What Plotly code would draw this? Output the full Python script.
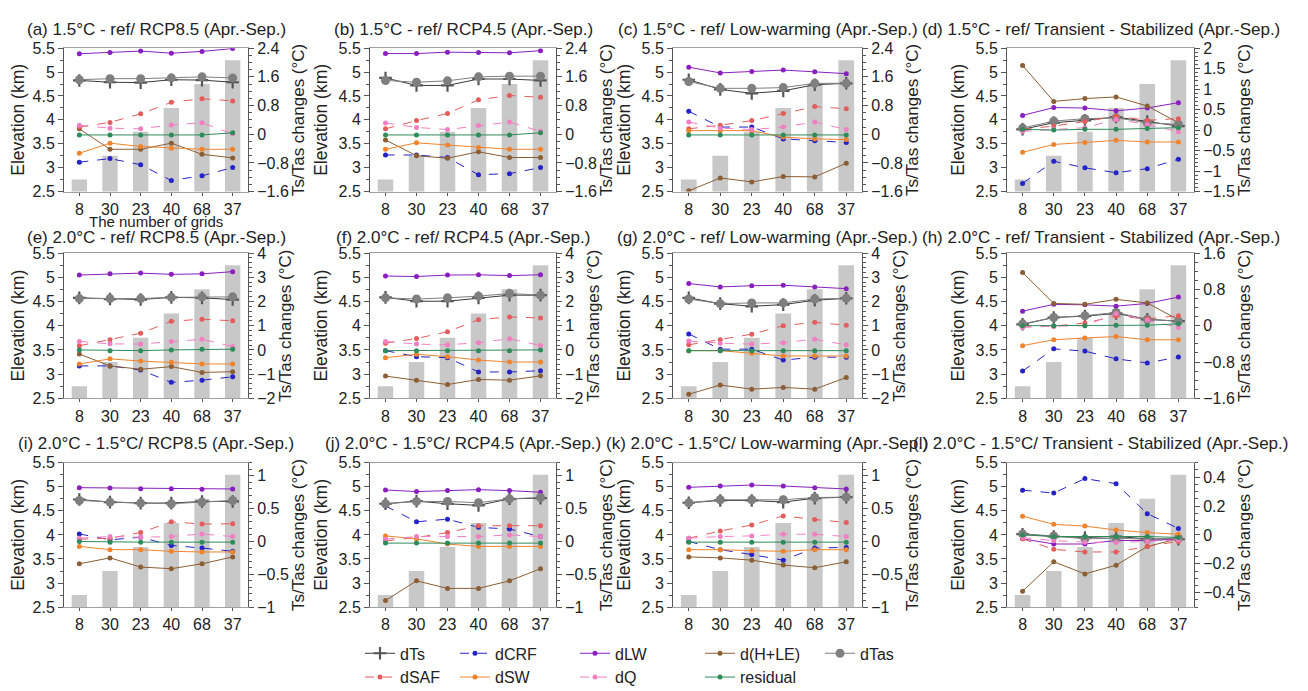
import plotly.graph_objects as go

# categories (number of grids) and elevation of each band
grids = ["8", "30", "23", "40", "68", "37"]
elevation = [2.75, 3.25, 3.75, 4.25, 4.75, 5.25]

titles = [
    "(a) 1.5°C - ref/ RCP8.5 (Apr.-Sep.)",
    "(b) 1.5°C - ref/ RCP4.5 (Apr.-Sep.)",
    "(c) 1.5°C - ref/ Low-warming (Apr.-Sep.)",
    "(d) 1.5°C - ref/ Transient - Stabilized (Apr.-Sep.)",
    "(e) 2.0°C - ref/ RCP8.5 (Apr.-Sep.)",
    "(f) 2.0°C - ref/ RCP4.5 (Apr.-Sep.)",
    "(g) 2.0°C - ref/ Low-warming (Apr.-Sep.)",
    "(h) 2.0°C - ref/ Transient - Stabilized (Apr.-Sep.)",
    "(i) 2.0°C - 1.5°C/ RCP8.5 (Apr.-Sep.)",
    "(j) 2.0°C - 1.5°C/ RCP4.5 (Apr.-Sep.)",
    "(k) 2.0°C - 1.5°C/ Low-warming (Apr.-Sep.)",
    "(l) 2.0°C - 1.5°C/ Transient - Stabilized (Apr.-Sep.)",
]

# one row per panel (a..l), one value per elevation band
dTs = [
    [1.50, 1.45, 1.44, 1.52, 1.51, 1.45],
    [1.57, 1.36, 1.36, 1.54, 1.54, 1.50],
    [1.52, 1.25, 1.14, 1.21, 1.38, 1.42],
    [0.02, 0.18, 0.24, 0.32, 0.21, 0.10],
    [2.15, 2.10, 2.08, 2.17, 2.15, 2.08],
    [2.17, 2.01, 2.01, 2.15, 2.26, 2.26],
    [2.15, 1.91, 1.80, 1.87, 2.05, 2.13],
    [0.03, 0.18, 0.21, 0.27, 0.14, 0.10],
    [0.64, 0.60, 0.585, 0.585, 0.61, 0.61],
    [0.575, 0.615, 0.575, 0.55, 0.65, 0.66],
    [0.59, 0.625, 0.625, 0.60, 0.66, 0.675],
    [0.005, -0.011, -0.018, -0.011, -0.027, -0.03],
]
dTas = [
    [1.52, 1.55, 1.55, 1.57, 1.60, 1.57],
    [1.50, 1.45, 1.49, 1.60, 1.62, 1.62],
    [1.47, 1.28, 1.28, 1.30, 1.42, 1.42],
    [0.05, 0.22, 0.28, 0.30, 0.18, 0.14],
    [2.12, 2.12, 2.12, 2.17, 2.19, 2.19],
    [2.15, 2.10, 2.15, 2.22, 2.33, 2.26],
    [2.10, 1.91, 1.94, 1.94, 2.10, 2.13],
    [0.04, 0.18, 0.22, 0.29, 0.14, 0.10],
    [0.625, 0.60, 0.585, 0.575, 0.60, 0.625],
    [0.575, 0.61, 0.61, 0.59, 0.65, 0.67],
    [0.59, 0.635, 0.635, 0.635, 0.67, 0.675],
    [0.007, -0.007, -0.027, -0.023, -0.03, -0.023],
]
dCRF = [
    [-0.78, -0.68, -0.85, -1.29, -1.16, -0.93],
    [-0.58, -0.58, -0.65, -1.13, -1.10, -0.93],
    [0.64, 0.20, 0.20, -0.13, -0.18, -0.23],
    [-1.30, -0.76, -0.92, -1.04, -0.94, -0.71],
    [-0.66, -0.66, -0.83, -1.34, -1.25, -1.11],
    [-0.03, -0.28, -0.32, -0.91, -0.91, -0.86],
    [0.66, 0.03, 0.03, -0.42, -0.30, -0.30],
    [-1.00, -0.51, -0.56, -0.73, -0.82, -0.69],
    [0.115, 0.025, 0.065, -0.06, -0.10, -0.15],
    [0.54, 0.30, 0.34, 0.215, 0.19, 0.075],
    [0.0, -0.125, -0.20, -0.285, -0.10, -0.09],
    [0.31, 0.29, 0.39, 0.355, 0.147, 0.045],
]
dLW = [
    [2.245, 2.28, 2.32, 2.26, 2.31, 2.39],
    [2.25, 2.25, 2.29, 2.28, 2.27, 2.33],
    [1.87, 1.71, 1.75, 1.79, 1.74, 1.69],
    [0.36, 0.55, 0.54, 0.47, 0.54, 0.67],
    [3.09, 3.14, 3.17, 3.12, 3.14, 3.23],
    [3.05, 3.03, 3.09, 3.10, 3.07, 3.10],
    [2.74, 2.60, 2.65, 2.67, 2.60, 2.53],
    [0.32, 0.47, 0.46, 0.43, 0.49, 0.63],
    [0.82, 0.815, 0.805, 0.805, 0.795, 0.80],
    [0.785, 0.76, 0.775, 0.79, 0.775, 0.75],
    [0.825, 0.845, 0.86, 0.845, 0.82, 0.80],
    [-0.027, -0.063, -0.063, -0.039, -0.039, -0.03],
]
dHLE = [
    [0.15, -0.42, -0.42, -0.25, -0.56, -0.66],
    [-0.16, -0.60, -0.67, -0.49, -0.65, -0.65],
    [-1.58, -1.22, -1.33, -1.18, -1.19, -0.81],
    [1.58, 0.70, 0.77, 0.81, 0.59, 0.18],
    [-0.17, -0.66, -0.80, -0.69, -0.93, -0.90],
    [-1.08, -1.25, -1.43, -1.22, -1.25, -1.07],
    [-1.83, -1.45, -1.62, -1.55, -1.62, -1.14],
    [1.17, 0.49, 0.47, 0.58, 0.50, 0.13],
    [-0.34, -0.25, -0.39, -0.415, -0.34, -0.235],
    [-0.90, -0.60, -0.715, -0.715, -0.60, -0.415],
    [-0.235, -0.25, -0.285, -0.36, -0.40, -0.31],
    [-0.39, -0.186, -0.27, -0.21, -0.08, -0.027],
]
dSAF = [
    [0.20, 0.33, 0.57, 0.89, 0.99, 0.93],
    [0.15, 0.38, 0.58, 0.96, 1.08, 1.03],
    [0.15, 0.25, 0.38, 0.58, 0.77, 0.71],
    [0.02, 0.10, 0.21, 0.34, 0.24, 0.28],
    [0.17, 0.42, 0.69, 1.18, 1.27, 1.20],
    [0.28, 0.47, 0.75, 1.25, 1.36, 1.32],
    [0.21, 0.42, 0.65, 1.00, 1.14, 1.02],
    [-0.01, -0.01, 0.06, 0.21, 0.15, 0.22],
    [0.035, 0.05, 0.135, 0.30, 0.265, 0.27],
    [0.01, 0.06, 0.135, 0.24, 0.24, 0.24],
    [0.05, 0.16, 0.25, 0.39, 0.335, 0.29],
    [-0.027, -0.10, -0.118, -0.118, -0.08, -0.045],
]
dSW = [
    [-0.53, -0.25, -0.34, -0.39, -0.42, -0.42],
    [-0.42, -0.24, -0.30, -0.37, -0.42, -0.42],
    [0.10, 0.10, 0.10, -0.08, -0.13, -0.15],
    [-0.54, -0.35, -0.30, -0.25, -0.29, -0.29],
    [-0.58, -0.37, -0.46, -0.51, -0.58, -0.58],
    [-0.32, -0.18, -0.28, -0.42, -0.50, -0.50],
    [-0.03, -0.03, -0.14, -0.25, -0.25, -0.25],
    [-0.44, -0.31, -0.27, -0.24, -0.31, -0.31],
    [-0.075, -0.125, -0.125, -0.15, -0.16, -0.16],
    [0.085, 0.04, -0.04, -0.075, -0.075, -0.075],
    [-0.125, -0.125, -0.14, -0.15, -0.125, -0.125],
    [0.13, 0.073, 0.061, 0.034, 0.016, 0.005],
]
dQ = [
    [0.25, 0.17, 0.15, 0.26, 0.32, 0.01],
    [0.31, 0.19, 0.13, 0.24, 0.34, 0.08],
    [0.34, 0.17, 0.13, 0.20, 0.34, 0.13],
    [-0.03, 0.02, 0.06, 0.26, 0.14, -0.04],
    [0.35, 0.25, 0.24, 0.35, 0.44, 0.14],
    [0.35, 0.24, 0.21, 0.30, 0.46, 0.18],
    [0.37, 0.28, 0.24, 0.30, 0.44, 0.21],
    [-0.04, -0.01, 0.0, 0.27, 0.12, -0.04],
    [0.05, 0.075, 0.065, 0.075, 0.115, 0.075],
    [0.035, 0.075, 0.075, 0.075, 0.10, 0.075],
    [0.05, 0.075, 0.085, 0.11, 0.11, 0.075],
    [-0.018, -0.04, -0.05, -0.052, -0.045, -0.034],
]
residual = [
    [-0.02, -0.02, -0.02, -0.02, -0.02, 0.04],
    [-0.02, -0.02, -0.02, -0.02, -0.02, 0.04],
    [-0.02, -0.02, -0.02, -0.02, -0.02, -0.02],
    [0.02, 0.0, 0.02, 0.02, 0.04, 0.06],
    [0.0, -0.03, -0.03, 0.0, 0.03, 0.03],
    [-0.03, -0.03, -0.03, -0.03, -0.03, 0.0],
    [-0.03, -0.03, -0.03, -0.03, -0.03, -0.03],
    [0.0, 0.0, 0.0, 0.01, 0.01, 0.04],
    [0.0, -0.01, -0.01, -0.01, -0.01, -0.01],
    [-0.025, -0.025, -0.025, -0.025, -0.025, -0.025],
    [-0.01, -0.01, -0.01, -0.01, -0.01, -0.01],
    [0.0, -0.011, -0.011, -0.011, -0.011, -0.018],
]

# right axis range / tick step per panel
right_range = [[-1.6, 2.4]] * 3 + [[-1.5, 2.0]] + [[-2, 4]] * 3 + [[-1.6, 1.6]] + [[-1, 1.2]] * 3 + [[-0.5, 0.5]]
right_dtick = [0.8] * 3 + [0.5] + [1] * 3 + [0.8] + [0.5] * 3 + [0.2]

# name, data, colour, marker symbol, marker size, dash, legend column
series = [
    ("dTs", dTs, "#3a3a3a", "cross-thin", 9, "solid", 1),
    ("dCRF", dCRF, "#2323c8", "circle", 5, "dash", 2),
    ("dLW", dLW, "#8a1fc0", "circle", 5, "solid", 3),
    ("d(H+LE)", dHLE, "#8b5e34", "circle", 5, "solid", 4),
    ("dTas", dTas, "#7f7f7f", "circle", 9, "solid", 5),
    ("dSAF", dSAF, "#e45c5c", "circle", 5, "dash", 1),
    ("dSW", dSW, "#f0842c", "circle", 5, "solid", 2),
    ("dQ", dQ, "#f27fc4", "circle", 5, "dash", 3),
    ("residual", residual, "#2e8b5a", "circle", 5, "solid", 4),
]

W, H = 1308, 691
col_px = [(56, 240), (362, 548), (665, 854), (999, 1186)]
row_px = [(33, 180), (243, 392), (458, 606)]
title_y = [14, 227, 438]
FONT = "Liberation Sans, Arial, sans-serif"

fig = go.Figure()
layout = {}
annotations = []

for p in range(12):
    r, c = divmod(p, 4)
    xa = "x" if p == 0 else "x%d" % (p + 1)
    ya = "y" if p == 0 else "y%d" % (2 * p + 1)
    ya2 = "y%d" % (2 * p + 2)

    fig.add_trace(go.Bar(x=grids, y=elevation, xaxis=xa, yaxis=ya, width=0.5,
                         marker=dict(color="#c8c8c8", line=dict(width=0)),
                         showlegend=False, hoverinfo="y"))

    for name, data, color, sym, size, dash, lg in series:
        if sym == "cross-thin":
            mk = dict(symbol=sym, size=size, color="#555", line=dict(width=2.2, color="#555"))
        else:
            mk = dict(symbol=sym, size=size, color=color)
        fig.add_trace(go.Scatter(
            x=grids, y=data[p], xaxis=xa, yaxis=ya2, mode="lines+markers", name=name,
            line=dict(color=color, width=1, dash=dash), marker=mk,
            showlegend=(p == 0), legend="legend" if lg == 1 else "legend%d" % lg,
        ))

    x0, x1 = col_px[c]
    y0, y1 = row_px[r]
    layout["xaxis" if p == 0 else "xaxis%d" % (p + 1)] = dict(
        domain=[x0 / W, x1 / W], anchor=ya, type="category",
        showline=True, linecolor="#a0a0a0", mirror=True, ticks="outside", ticklen=3,
        tickcolor="#555", tickfont=dict(size=16, color="#222"),
    )
    layout["yaxis" if p == 0 else "yaxis%d" % (2 * p + 1)] = dict(
        domain=[1 - y1 / H, 1 - y0 / H], anchor=xa, range=[2.5, 5.5], dtick=0.5,
        showline=True, linecolor="#555", ticks="outside", ticklen=5, tickcolor="#555",
        minor=dict(ticks="outside", ticklen=3, dtick=0.25, tickcolor="#555"),
        showgrid=False, zeroline=False, tickfont=dict(size=16, color="#222"),
        title=dict(text="Elevation (km)", font=dict(size=17.5, color="#222"), standoff=6),
    )
    layout["yaxis%d" % (2 * p + 2)] = dict(
        overlaying=ya, anchor=xa, side="right", range=right_range[p], dtick=right_dtick[p],
        showline=True, linecolor="#555", ticks="outside", ticklen=5, tickcolor="#555",
        minor=dict(ticks="outside", ticklen=3, tickcolor="#555"),
        showgrid=False, zeroline=False, tickfont=dict(size=16, color="#222"),
        title=dict(text="Ts/Tas changes (°C)", font=dict(size=17, color="#222"), standoff=4),
    )
    annotations.append(dict(text=titles[p], x=(x0 + x1) / 2 / W, y=1 - title_y[r] / H,
                            xref="paper", yref="paper", xanchor="center", yanchor="middle",
                            showarrow=False, font=dict(size=17, color="#222")))

# x-axis title of panel (a) only, placed like the reference
annotations.append(dict(text="The number of grids", x=(col_px[0][0] + col_px[0][1]) / 2 / W,
                        y=1 - 211 / H, xref="paper", yref="paper", xanchor="center",
                        yanchor="middle", showarrow=False, font=dict(size=15, color="#222")))

legend_x = [352, 447, 567, 692, 812]
for k, lx in enumerate(legend_x):
    key = "legend" if k == 0 else "legend%d" % (k + 1)
    layout[key] = dict(x=lx / W, y=1 - 636 / H, xanchor="left", yanchor="top",
                       orientation="v", bgcolor="rgba(0,0,0,0)", tracegroupgap=0,
                       font=dict(size=16, color="#222"), itemwidth=30)

fig.update_layout(
    width=W, height=H, margin=dict(l=0, r=0, t=0, b=0),
    paper_bgcolor="white", plot_bgcolor="white",
    font=dict(family=FONT, color="#222"),
    annotations=annotations, barmode="overlay",
    **layout,
)

fig.write_html("out.html")
